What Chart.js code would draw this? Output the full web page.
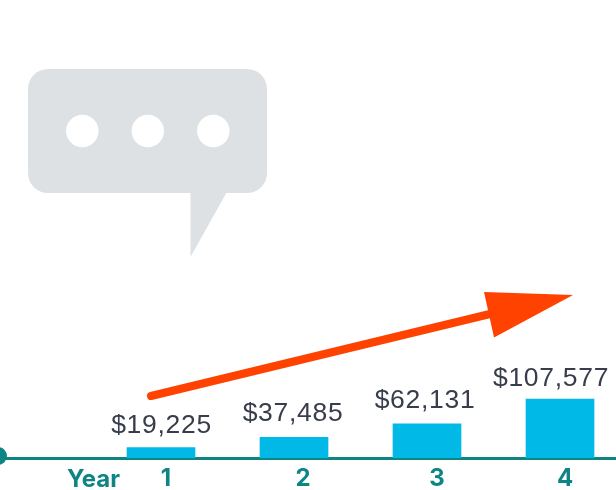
<!DOCTYPE html>
<html><head><meta charset="utf-8">
<style>html,body{margin:0;padding:0;background:#fff;overflow:hidden}canvas{display:block}</style>
<script src="https://cdn.jsdelivr.net/npm/chart.js@4/dist/chart.umd.min.js"></script>
</head><body>
<div style="position:relative;width:616px;height:490px"><canvas id="c"></canvas></div>
<script>
const years = [1, 2, 3, 4];
const earnings = [19225, 37485, 62131, 107577];
const earningLabels = ['$19,225', '$37,485', '$62,131', '$107,577'];
const axisTitle = 'Year';

const valueLabelShift = [0.5, -1, -2, -9];
const valueLabelGap = [14.5, 16, 15.5, 12.5];
const tickLabelShift = [5, 9, 10, 5];

const TEAL = '#0e8585', BAR = '#00b9e7', ARROW = '#ff4200', BUBBLE = '#dee1e3', INK = '#383d4b';

const decor = {
  id: 'decor',
  afterDatasetsDraw(chart) {
    const { ctx, scales: { x } } = chart;
    ctx.save();
    ctx.fillStyle = BUBBLE;
    ctx.beginPath(); ctx.roundRect(28, 69, 239, 124, 20); ctx.fill();
    ctx.beginPath(); ctx.moveTo(190.5, 190); ctx.lineTo(228, 190); ctx.lineTo(190.5, 257); ctx.closePath(); ctx.fill();
    ctx.fillStyle = '#fff';
    [82.3, 147.8, 213.3].forEach(cx => { ctx.beginPath(); ctx.arc(cx, 131, 16.2, 0, Math.PI * 2); ctx.fill(); });
    ctx.strokeStyle = ARROW; ctx.lineWidth = 8; ctx.lineCap = 'round';
    ctx.beginPath(); ctx.moveTo(151, 396); ctx.lineTo(490, 314); ctx.stroke();
    ctx.fillStyle = ARROW;
    ctx.beginPath(); ctx.moveTo(484, 292); ctx.lineTo(573, 295); ctx.lineTo(494, 337.5); ctx.closePath(); ctx.fill();
    ctx.fillStyle = TEAL;
    ctx.beginPath(); ctx.arc(-2, 456, 9, 0, Math.PI * 2); ctx.fill();
    const bars = chart.getDatasetMeta(0).data;
    ctx.fillStyle = INK; ctx.font = '26.5px "Liberation Sans"'; ctx.letterSpacing = '0.7px';
    ctx.textAlign = 'center'; ctx.textBaseline = 'alphabetic';
    earningLabels.forEach((t, i) => ctx.fillText(t, bars[i].x + valueLabelShift[i], bars[i].y - valueLabelGap[i]));
    ctx.letterSpacing = '0px';
    ctx.fillStyle = TEAL; ctx.font = '700 24px "Inter"';
    years.forEach((y, i) => ctx.fillText(String(y), x.getPixelForValue(y) + tickLabelShift[i], 486));
    ctx.fillText(axisTitle, 93.5, 487);
    ctx.restore();
  }
};

new Chart(document.getElementById('c'), {
  type: 'bar',
  data: {
    datasets: [{
      data: years.map((y, i) => ({ x: y, y: earnings[i] })),
      backgroundColor: BAR,
      borderWidth: 0,
      barThickness: 68
    }]
  },
  options: {
    responsive: true, maintainAspectRatio: false, animation: false,
    layout: { padding: { top: 0, bottom: 32, left: 0, right: 0 } },
    plugins: { legend: { display: false }, tooltip: { enabled: false } },
    scales: {
      x: {
        type: 'linear', min: -0.2105, max: 4.421, offset: false,
        grid: { display: false, drawTicks: false },
        border: { display: true, color: TEAL, width: 3 },
        ticks: { display: false }
      },
      y: { min: 0, max: 835000, display: false }
    }
  },
  plugins: [decor]
});
</script>
</body></html>
